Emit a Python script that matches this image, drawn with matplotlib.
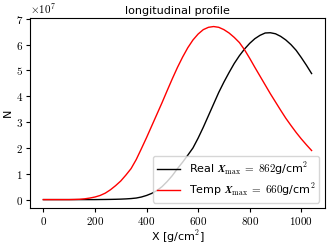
import matplotlib
matplotlib.use("Agg")
import matplotlib.pyplot as plt
import numpy as np

# ------------- data -------------
depth = list(range(0, 1041, 20))

# particle number in units of 1e7
real_n = [0.0, 0.0, 0.0, 0.0, 0.0, 0.0, 0.0, 0.0, 0.0, 0.0,
          0.0, 0.003, 0.005, 0.008, 0.012, 0.018, 0.027, 0.04, 0.06, 0.1,
          0.16, 0.24, 0.35, 0.5, 0.7, 0.93, 1.2, 1.45, 1.72, 2.0,
          2.38, 2.8, 3.25, 3.7, 4.15, 4.55, 4.92, 5.27, 5.57, 5.83,
          6.05, 6.23, 6.36, 6.45, 6.46, 6.42, 6.32, 6.18, 6.0, 5.78,
          5.5, 5.2, 4.88]
temp_n = [0.0, 0.0, 0.0, 0.0, 0.0, 0.0, 0.005, 0.012, 0.03, 0.06,
          0.1, 0.16, 0.25, 0.38, 0.54, 0.72, 0.95, 1.2, 1.55, 1.97,
          2.4, 2.85, 3.3, 3.75, 4.22, 4.68, 5.12, 5.52, 5.88, 6.18,
          6.41, 6.58, 6.67, 6.7, 6.67, 6.58, 6.45, 6.28, 6.08, 5.8,
          5.47, 5.12, 4.78, 4.44, 4.1, 3.78, 3.46, 3.15, 2.87, 2.6,
          2.35, 2.12, 1.9]

real_xmax = 862
temp_xmax = 660

plt.rcParams['mathtext.fontset'] = 'cm'
plt.rcParams['axes.formatter.use_mathtext'] = True
plt.rcParams['font.size'] = 8

fig, ax = plt.subplots(figsize=(3.33, 2.45), dpi=100)
fig.subplots_adjust(left=0.09, right=0.976, bottom=0.15, top=0.927)

ax.plot(depth, np.array(real_n) * 1e7, color='k', lw=1,
        label=r'Real $\boldsymbol{X}_{\max}\;=\;%d$g/cm$^2$' % real_xmax)
ax.plot(depth, np.array(temp_n) * 1e7, color='r', lw=1,
        label=r'Temp $\boldsymbol{X}_{\max}\;=\;%d$g/cm$^2$' % temp_xmax)

ax.set_title('longitudinal profile', fontsize=8, pad=3)
ax.set_xlabel(r'X [g/cm$^2$]', fontsize=8, labelpad=1)
ax.set_ylabel('N', fontsize=8, labelpad=2)
ax.set_xticks([0, 200, 400, 600, 800, 1000])

for lab in ax.get_xticklabels() + ax.get_yticklabels():
    lab.set_fontfamily('cmr10')
ax.yaxis.get_offset_text().set_fontfamily('cmr10')
ax.yaxis.get_offset_text().set_fontsize(8)
ax.tick_params(labelsize=8, length=3, pad=2)

ax.legend(loc='lower right', fontsize=8, labelspacing=0.4)

fig.savefig('out.png', dpi=100)
